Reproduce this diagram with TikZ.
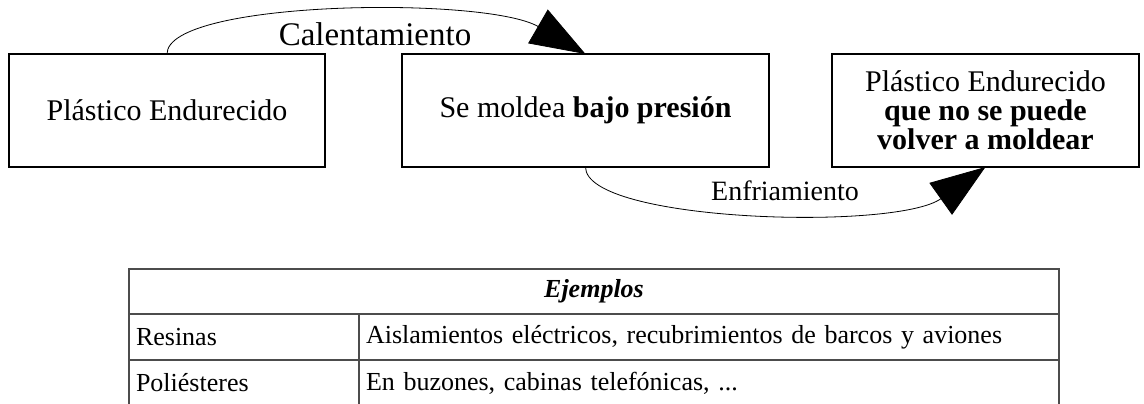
\documentclass[tikz,border=0pt]{standalone}
\usepackage{fontspec}
\setmainfont{Liberation Serif}
\usepackage{tikz}
\usetikzlibrary{arrows.meta,positioning,calc}
\tikzset{
    proc-box/.style={
        rectangle,
        draw=black,
        line width=1.2pt,
        inner sep=0pt,
        outer sep=0pt,
        minimum height=113pt,
        align=center,
        font=\fontsize{30}{34}\selectfont
    },
    flow-label/.style={
        anchor=base,
        inner sep=0pt
    },
    flow-arrow/.style={
        draw,
        line width=0.8pt,
        -{Triangle[length=55pt,width=39pt]}
    },
    tab-cell/.style={
        rectangle,
        draw=black!70,
        line width=1.3pt,
        anchor=north west,
        inner xsep=7pt,
        inner ysep=0pt,
        outer sep=0pt,
        minimum height=46pt,
        text width=#1,
        align=left,
        font=\fontsize{26}{30}\selectfont
    },
}

\begin{document}
\begin{tikzpicture}[x=1pt,y=-1pt]
        \useasboundingbox (0,0) rectangle (1144,404);
        % proceso
        \node [proc-box,minimum width=316pt] (P1) at (167,110.5) {Plástico Endurecido};
        \node [proc-box,minimum width=367pt] (P2) at (585.5,110.5) {Se moldea \textbf{bajo presión}};
        \node [proc-box,minimum width=307pt,font=\fontsize{30}{29}\selectfont] (P3) at (985.5,110.5)
            {Plástico Endurecido\\ \textbf{que no se puede}\\ \textbf{volver a moldear}};
        \draw [flow-arrow] (P1.north) .. controls +(0,-54) and +(-100,-58) .. (P2.north);
        \draw [flow-arrow] (P2.south) .. controls +(0,55) and +(-90,64) .. (P3.south);
        \node [flow-label,font=\fontsize{33}{36}\selectfont] (L1) at (375,46) {Calentamiento};
        \node [flow-label,font=\fontsize{28}{32}\selectfont] (L2) at (785,200) {Enfriamiento};
        % tabla de ejemplos
        \node [tab-cell=916pt,align=center,minimum height=45pt] (T0) at (129,269) {\textbf{\textit{Ejemplos}}};
        \node [tab-cell=216pt] (T1a) at (129,314) {Resinas};
        \node [tab-cell=686pt] (T1b) at (359,314) {Aislamientos eléctricos, recubrimientos de barcos y aviones};
        \node [tab-cell=216pt] (T2a) at (129,360) {Poliésteres};
        \node [tab-cell=686pt] (T2b) at (359,360) {En buzones, cabinas telefónicas, ...};
    \end{tikzpicture}
\end{document}
